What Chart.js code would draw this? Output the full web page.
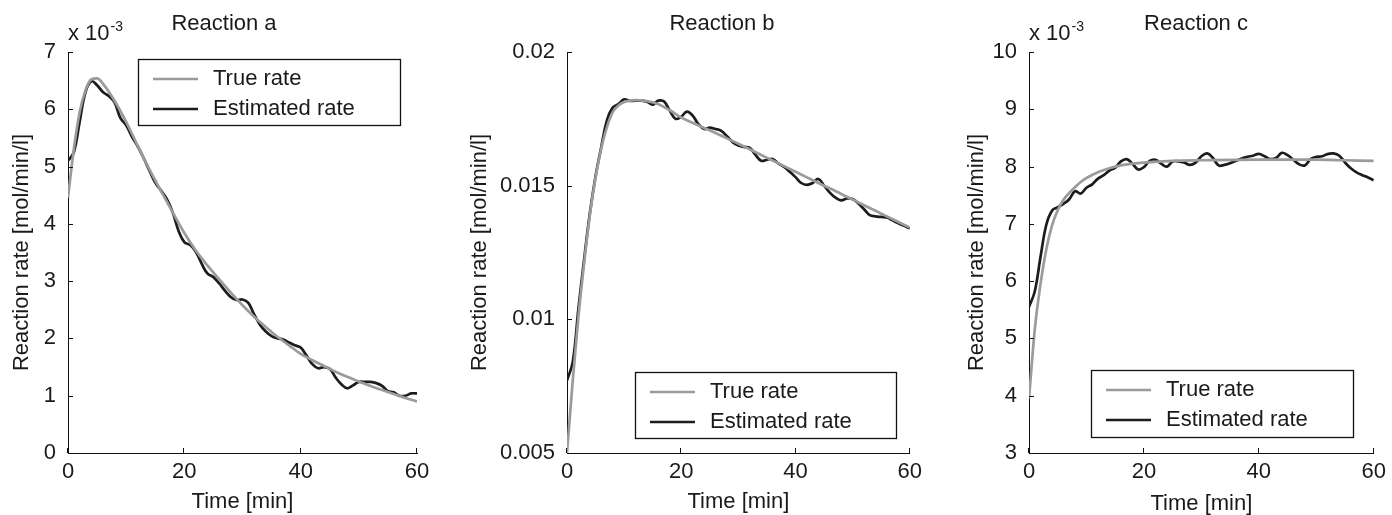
<!DOCTYPE html>
<html>
<head>
<meta charset="utf-8">
<script src="https://cdn.jsdelivr.net/npm/chart.js@4.4.1/dist/chart.umd.min.js"></script>
<style>
  body { margin: 0; background: #fff; }
  .panel { position: absolute; top: 0; width: 464px; height: 515px; }
</style>
</head>
<body>
<div class="panel" style="left:0px"><canvas id="chartA" width="464" height="515"></canvas></div>
<div class="panel" style="left:464px"><canvas id="chartB" width="464" height="515"></canvas></div>
<div class="panel" style="left:928px"><canvas id="chartC" width="464" height="515"></canvas></div>
<script>
// time axis for the estimated rates (minutes)
const minutes = [0,1,2,3,4,5,6,7,8,9,10,11,12,13,14,15,16,17,18,19,20,21,22,23,24,25,26,27,28,29,30,
  31,32,33,34,35,36,37,38,39,40,41,42,43,44,45,46,47,48,49,50,51,52,53,54,55,56,57,58,59,60];
const xTicks = [0, 20, 40, 60];

// Reaction a (values in 10^-3 mol/min/l)
const trueTimeA = [0,1,2,3,4,5,6,8,10,12,14,16,18,20,22,24,26,28,30,32,34,36,38,40,42,44,46,48,50,52,54,56,58,60];
const trueRateA = [4.46,5.30,5.95,6.33,6.52,6.54,6.45,6.15,5.78,5.36,4.95,4.57,4.20,3.84,3.53,3.27,3.03,2.80,2.58,2.38,
  2.20,2.03,1.88,1.73,1.62,1.52,1.42,1.33,1.25,1.17,1.10,1.03,0.96,0.90];
const estRateA = [5.10,5.25,5.78,6.30,6.49,6.42,6.30,6.23,6.12,5.85,5.72,5.52,5.35,5.15,4.93,4.72,4.58,4.43,4.20,3.88,
  3.68,3.63,3.51,3.30,3.13,3.07,2.96,2.83,2.72,2.67,2.68,2.62,2.42,2.24,2.12,2.04,2.00,1.98,1.93,1.88,
  1.84,1.70,1.55,1.48,1.50,1.47,1.32,1.20,1.13,1.18,1.24,1.24,1.24,1.22,1.17,1.08,1.06,1.00,1.00,1.04,1.04];
const yTicksA = [0,1,2,3,4,5,6,7];

// Reaction b (mol/min/l)
const trueTimeB = [0,1,2,3,4,5,6,7,8,9,10,12,14,16,18,20,22,24,26,28,30,32,34,36,38,40,42,44,46,48,50,52,54,56,58,60];
const trueRateB = [0.00500,0.00770,0.01010,0.01210,0.01390,0.01530,0.01640,0.01720,0.01775,0.01800,0.01813,0.01820,
  0.01816,0.01805,0.01782,0.01755,0.01735,0.01716,0.01697,0.01677,0.01657,0.01636,0.01615,0.01594,0.01573,
  0.01552,0.01531,0.01510,0.01490,0.01469,0.01448,0.01427,0.01406,0.01385,0.01364,0.01343];
const estRateB = [0.00772,0.00840,0.01040,0.01225,0.01397,0.01535,0.01645,0.01745,0.01792,0.01805,
  0.01823,0.01817,0.01818,0.01818,0.01814,0.01803,0.01818,0.01815,0.01780,0.01750,
  0.01758,0.01777,0.01762,0.01730,0.01712,0.01717,0.01712,0.01705,0.01685,0.01663,
  0.01650,0.01645,0.01641,0.01615,0.01593,0.01597,0.01600,0.01583,0.01570,0.01552,
  0.01532,0.01510,0.01503,0.01510,0.01525,0.01500,0.01474,0.01455,0.01445,0.01452,
  0.01450,0.01433,0.01412,0.01390,0.01385,0.01383,0.01381,0.01370,0.01359,0.01350,0.01340];
const yTicksB = [0.005, 0.01, 0.015, 0.02];

// Reaction c (values in 10^-3 mol/min/l)
const trueTimeC = [0,1,2,3,4,5,6,7,8,9,10,12,14,16,18,20,25,30,40,50,55,60];
const trueRateC = [3.95,5.15,5.95,6.55,6.97,7.24,7.42,7.54,7.64,7.73,7.80,7.90,7.97,8.02,8.05,8.07,8.10,8.11,8.12,8.12,8.11,8.10];
const estRateC = [5.55,5.82,6.42,6.98,7.23,7.29,7.35,7.43,7.57,7.53,7.63,7.69,7.79,7.85,7.93,7.98,8.09,8.13,8.05,7.95,
  7.99,8.10,8.12,8.05,8.00,8.09,8.09,8.07,8.03,8.07,8.18,8.23,8.15,8.02,8.03,8.06,8.10,8.14,8.17,8.19,
  8.22,8.18,8.13,8.15,8.24,8.20,8.12,8.04,8.02,8.13,8.17,8.18,8.22,8.23,8.19,8.07,7.97,7.90,7.85,7.81,7.76];
const yTicksC = [3,4,5,6,7,8,9,10];

const seriesNames = ['True rate', 'Estimated rate'];

const FONT = '"Liberation Sans", Arial, Helvetica, sans-serif';
const FS = 22;
Chart.defaults.font.family = FONT;
Chart.defaults.color = '#1a1a1a';

function toPoints(xs, ys) {
  return xs.map((x, i) => ({ x: x, y: ys[i] }));
}

// inward ticks, panel title, exponent label and boxed legend (matlab look)
const panelDecor = {
  id: 'panelDecor',
  afterDraw(chart, args, opts) {
    const ctx = chart.ctx;
    const area = chart.chartArea;
    const xs = chart.scales.x, ys = chart.scales.y;
    ctx.save();

    ctx.strokeStyle = '#111';
    ctx.lineWidth = 1;
    ctx.beginPath();
    xs.ticks.forEach(t => {
      const px = Math.round(xs.getPixelForValue(t.value)) - 0.5;
      ctx.moveTo(px, area.bottom);
      ctx.lineTo(px, area.bottom - 5);
    });
    ys.ticks.forEach(t => {
      const py = Math.round(ys.getPixelForValue(t.value)) + 0.5;
      ctx.moveTo(area.left, py);
      ctx.lineTo(area.left + 5, py);
    });
    ctx.stroke();

    ctx.fillStyle = '#1a1a1a';
    ctx.textBaseline = 'middle';
    ctx.textAlign = 'center';
    ctx.font = FS + 'px ' + FONT;
    ctx.fillText(opts.title, opts.titleX, 24);

    if (opts.exponent) {
      ctx.textAlign = 'left';
      ctx.font = FS + 'px ' + FONT;
      const base = 'x 10';
      ctx.fillText(base, area.left, 34);
      const w = ctx.measureText(base).width;
      ctx.font = '14px ' + FONT;
      ctx.fillText('-3', area.left + w + 1, 27);
    }

    const lg = opts.legend;
    const bx = area.left + lg.dx, by = area.top + lg.dy;
    ctx.fillStyle = '#fff';
    ctx.fillRect(bx, by, lg.w, lg.h);
    ctx.strokeStyle = '#111';
    ctx.lineWidth = 1.3;
    ctx.strokeRect(bx + 0.5, by + 0.5, lg.w, lg.h);
    ctx.font = FS + 'px ' + FONT;
    ctx.textAlign = 'left';
    chart.data.datasets.forEach((ds, i) => {
      const ry = by + 20 + i * 30;
      ctx.strokeStyle = ds.borderColor;
      ctx.lineWidth = 2.6;
      ctx.beginPath();
      ctx.moveTo(bx + 15, ry);
      ctx.lineTo(bx + 60, ry);
      ctx.stroke();
      ctx.fillStyle = '#1a1a1a';
      ctx.fillText(ds.label, bx + 75, ry);
    });
    ctx.restore();
  }
};

function makePanel(id, cfg) {
  return new Chart(document.getElementById(id), {
    type: 'line',
    data: {
      datasets: [
        {
          label: seriesNames[0],
          data: toPoints(cfg.trueTime, cfg.trueRate),
          borderColor: '#9b9b9b',
          borderWidth: 2.7,
          pointRadius: 0,
          cubicInterpolationMode: 'monotone',
          fill: false,
        },
        {
          label: seriesNames[1],
          data: toPoints(minutes, cfg.estRate),
          borderColor: '#1c1c1c',
          borderWidth: 2.7,
          pointRadius: 0,
          tension: 0.4,
          fill: false,
        }
      ]
    },
    options: {
      responsive: false,
      animation: false,
      events: [],
      layout: { padding: { top: 52, right: cfg.padRight, left: 0, bottom: 0 } },
      plugins: {
        legend: { display: false },
        tooltip: { enabled: false },
        panelDecor: { title: cfg.title, titleX: cfg.titleX, exponent: cfg.exponent, legend: cfg.legend },
      },
      scales: {
        x: {
          type: 'linear',
          min: 0,
          max: 60,
          afterBuildTicks: s => { s.ticks = xTicks.map(v => ({ value: v })); },
          afterFit: s => { s.height = 62; },
          grid: { display: false, drawTicks: false },
          border: { display: true, color: '#111', width: 1 },
          ticks: { padding: 6, color: '#1a1a1a', font: { size: FS }, maxRotation: 0 },
          title: {
            display: true,
            text: 'Time [min]',
            color: '#1a1a1a',
            font: { size: FS, lineHeight: cfg.xTitleLH },
            padding: 0,
          },
        },
        y: {
          type: 'linear',
          min: cfg.yTicks[0],
          max: cfg.yTicks[cfg.yTicks.length - 1],
          afterBuildTicks: s => { s.ticks = cfg.yTicks.map(v => ({ value: v })); },
          afterFit: s => { s.width = cfg.yWidth; },
          grid: { display: false, drawTicks: false },
          border: { display: true, color: '#111', width: 1 },
          ticks: {
            padding: 12,
            color: '#1a1a1a',
            font: { size: FS },
            callback: v => String(Number(v.toFixed(3))),
          },
          title: {
            display: true,
            text: 'Reaction rate [mol/min/l]',
            color: '#1a1a1a',
            font: { size: FS },
            padding: { top: cfg.yTitlePad, bottom: 0 },
          },
        },
      },
    },
    plugins: [panelDecor],
  });
}

makePanel('chartA', {
  title: 'Reaction a', titleX: 224, exponent: true,
  trueTime: trueTimeA, trueRate: trueRateA, estRate: estRateA, yTicks: yTicksA,
  yWidth: 68, padRight: 47, yTitlePad: 9, xTitleLH: 1.2,
  legend: { dx: 70, dy: 7, w: 262, h: 66 },
});
makePanel('chartB', {
  title: 'Reaction b', titleX: 258, exponent: false,
  trueTime: trueTimeB, trueRate: trueRateB, estRate: estRateB, yTicks: yTicksB,
  yWidth: 103, padRight: 13, yTitlePad: 3, xTitleLH: 1.2,
  legend: { dx: 68, dy: 320, w: 261, h: 66 },
});
makePanel('chartC', {
  title: 'Reaction c', titleX: 268, exponent: true,
  trueTime: trueTimeC, trueRate: trueRateC, estRate: estRateC, yTicks: yTicksC,
  yWidth: 101, padRight: 14, yTitlePad: 36, xTitleLH: 1.0,
  legend: { dx: 62, dy: 318, w: 262, h: 67 },
});
</script>
</body>
</html>
